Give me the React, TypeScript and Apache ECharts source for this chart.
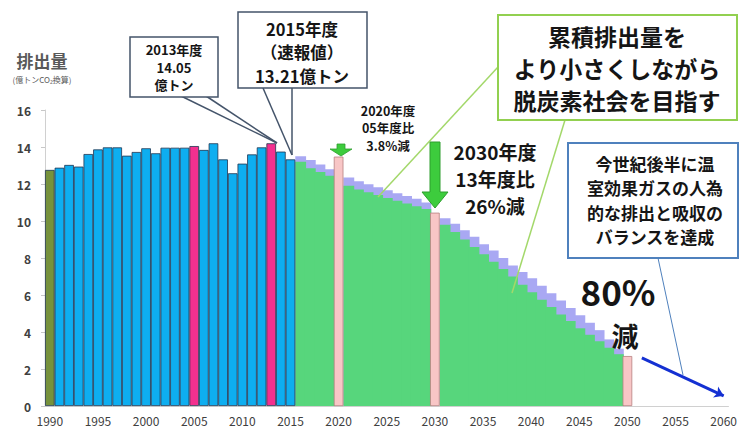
import React, { useEffect, useRef } from "react";
import * as echarts from "echarts";

// ---- data ----
const categories: string[] = [];
for (let y = 1990; y <= 2060; y++) categories.push(String(y));

const historyStartYear = 1990;
const historyValues = [
  12.76, 12.88, 13.03, 12.94, 13.62, 13.87, 13.98, 13.98, 13.53, 13.73,
  13.93, 13.66, 13.96, 13.96, 13.96, 14.05, 13.84, 14.2, 13.33, 12.58,
  13.1, 13.6, 13.98, 14.2, 13.75, 13.33,
];
const baseYear = "1990";
const highlightYears = ["2005", "2013"];

const futureStartYear = 2016;
const pathValues = [
  13.2, 12.85, 12.65, 12.45, null, 11.9, 11.7, 11.55, 11.4, 11.25, 11.1, 10.95, 10.8, 10.65,
  null, 9.8, 9.4, 9.0, 8.6, 8.2, 7.8, 7.4, 7.0, 6.55, 6.15, 5.75, 5.35, 4.95, 4.6, 4.2,
  3.85, 3.5, 3.15, 2.8,
];
const upperPathValues = [
  13.5, 13.3, 13.05, 12.8, null, 12.35, 12.15, 11.98, 11.82, 11.66, 11.5, 11.35, 11.2, 11.0,
  null, 10.15, 9.85, 9.5, 9.15, 8.75, 8.4, 8.0, 7.6, 7.25, 6.9, 6.5, 6.1, 5.7, 5.3, 4.9,
  4.5, 4.1, 3.6, 3.1,
];
const targetYears = ["2020", "2030", "2050"];
const targetValues = [13.48, 10.45, 2.7];

const trendYears = [2051.5, 2060];
const trendValues = [2.6, 0.55];

const yTicks = { min: 0, max: 16, interval: 2 };

const FONT = "'Noto Sans CJK JP', 'Noto Sans', sans-serif";

function alignFrom(start: number, vals: (number | null)[]) {
  return categories.map((c) => {
    const k = +c - start;
    return k >= 0 && k < vals.length ? vals[k] : null;
  });
}

export default function App() {
  const ref = useRef<HTMLDivElement>(null);
  useEffect(() => {
    document.body.style.margin = "0";
    if (!ref.current) return;
    const chart = echarts.init(ref.current, null, { renderer: "svg" });

    const histData = alignFrom(historyStartYear, historyValues);
    const greenData = alignFrom(futureStartYear, pathValues);
    const lavData = alignFrom(futureStartYear, upperPathValues);
    const targetData = categories.map((c) => {
      const i = targetYears.indexOf(c);
      return i >= 0 ? targetValues[i] : null;
    });

    const txt = (x: number, y: number, text: string, size: number, lh: number, opts: any = {}) => ({
      type: "text",
      x,
      y,
      z: 100,
      style: {
        text,
        fontSize: size,
        lineHeight: lh,
        fontWeight: "bold",
        fontFamily: FONT,
        fill: "#151515",
        align: "center",
        verticalAlign: "middle",
        ...opts,
      },
    });
    const ln = (x1: number, y1: number, x2: number, y2: number, color: string, w: number) => ({
      type: "line",
      z: 99,
      shape: { x1, y1, x2, y2 },
      style: { stroke: color, lineWidth: w },
    });
    const box = (x: number, y: number, width: number, height: number, color: string, w: number) => ({
      type: "rect",
      z: 99,
      shape: { x, y, width, height },
      style: { fill: "#ffffff", stroke: color, lineWidth: w },
    });

    chart.setOption({
      animation: false,
      grid: { left: 45, right: 11, top: 110, bottom: 25, containLabel: false },
      xAxis: [
        {
          type: "category",
          data: categories,
          boundaryGap: true,
          axisLine: { show: true, lineStyle: { color: "#d0d0d0", width: 1 } },
          axisTick: { show: false },
          axisLabel: { interval: 4, color: "#404040", fontSize: 12, margin: 8, fontFamily: FONT },
          splitLine: { show: false },
        },
        { type: "value", min: 1989.5, max: 2060.5, show: false },
      ],
      yAxis: {
        type: "value",
        min: yTicks.min,
        max: yTicks.max,
        interval: yTicks.interval,
        axisLine: { show: true, lineStyle: { color: "#d0d0d0" } },
        axisTick: { show: true, length: 4, lineStyle: { color: "#c8c8c8" } },
        axisLabel: { color: "#404040", fontSize: 12, fontWeight: "bold", margin: 14, fontFamily: FONT },
        splitLine: { show: false },
      },
      series: [
        {
          type: "bar",
          data: lavData,
          barGap: "-100%",
          barWidth: 10.8,
          itemStyle: { color: "#a9a8f3" },
        },
        {
          type: "bar",
          data: greenData,
          barGap: "-100%",
          barWidth: 10.8,
          itemStyle: { color: "#57d67c" },
        },
        {
          type: "bar",
          data: histData,
          barGap: "-100%",
          barWidth: "100%",
          itemStyle: {
            color: (p: any) =>
              p.name === baseYear ? "#76923c" : highlightYears.includes(p.name) ? "#f3308f" : "#0eaef0",
            borderColor: "#1f3550",
            borderWidth: 0.8,
          },
        },
        {
          type: "bar",
          data: targetData,
          barGap: "-100%",
          barWidth: "100%",
          itemStyle: { color: "#f8c6c6", borderColor: "#b88080", borderWidth: 0.8 },
        },
        {
          type: "lines",
          coordinateSystem: "cartesian2d",
          xAxisIndex: 1,
          yAxisIndex: 0,
          symbol: ["none", "arrow"],
          symbolSize: 9,
          lineStyle: { color: "#1430d2", width: 3, opacity: 1, curveness: 0 },
          data: [{ coords: trendYears.map((x, i) => [x, trendValues[i]]) }],
          z: 5,
        },
      ],
      graphic: [
        // y axis title
        txt(42, 60, "排出量", 17, 20, { fill: "#595959" }),
        txt(42, 79, "(億トンCO₂換算)", 8, 10, { fill: "#595959", fontWeight: "normal" }),
        // 2013 callout
        ln(181, 96, 277, 143, "#44546a", 1.5),
        ln(206, 96, 277, 143, "#44546a", 1.5),
        box(130, 37, 88, 60, "#44546a", 1.5),
        txt(174, 67, "2013年度\n14.05\n億トン", 13, 17.5),
        // 2015 callout
        ln(263, 88, 292, 155, "#44546a", 1.5),
        ln(292, 88, 292, 155, "#44546a", 1.5),
        box(238, 12, 129, 76, "#44546a", 1.5),
        txt(302, 52, "2015年度\n（速報値）\n13.21億トン", 16.5, 23.5),
        // 2020
        txt(388, 127.5, "2020年度\n05年度比\n3.8%減", 12.5, 17.5),
        {
          type: "polygon",
          z: 100,
          shape: { points: [[337, 144], [345, 144], [345, 149], [352, 149], [341, 156], [330, 149], [337, 149]] },
          style: { fill: "#3dcc3d", stroke: "#2e9e2e", lineWidth: 0.8 },
        },
        // 2030
        {
          type: "polygon",
          z: 100,
          shape: { points: [[430, 142], [440, 142], [440, 192], [448, 192], [435, 208], [422, 192], [430, 192]] },
          style: { fill: "#3dcc3d", stroke: "#2e9e2e", lineWidth: 1 },
        },
        txt(495, 178, "2030年度\n13年度比\n26%減", 19, 27),
        // green box
        ln(498, 67, 378, 197, "#a3d86a", 1.5),
        ln(565, 120, 512, 293, "#a3d86a", 1.5),
        box(498, 15, 239, 105, "#92d050", 2),
        txt(617, 68, "累積排出量を\nより小さくしながら\n脱炭素社会を目指す", 23, 32),
        // blue box
        ln(658, 258, 683, 375, "#4f81bd", 1),
        box(568, 143, 170, 115, "#4f81bd", 2),
        txt(655, 200, "今世紀後半に温\n室効果ガスの人為\n的な排出と吸収の\nバランスを達成", 17, 24.5),
        // 80%
        txt(618, 290, "80%", 35, 38),
        txt(625, 335, "減", 27, 30),
      ],
    });
    return () => chart.dispose();
  }, []);
  return <div ref={ref} style={{ width: 740, height: 431 }} />;
}
